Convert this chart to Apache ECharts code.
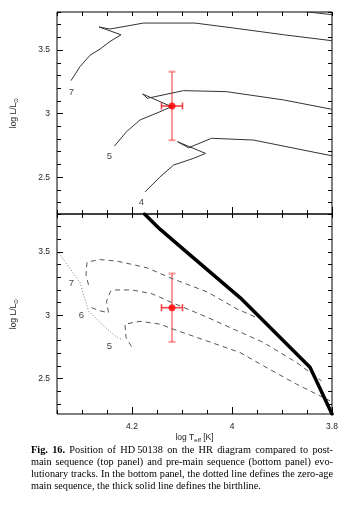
<!DOCTYPE html>
<html>
<head>
<meta charset="utf-8">
<script src="https://cdn.jsdelivr.net/npm/echarts@6/dist/echarts.min.js"></script>
<style>
  html, body { margin: 0; padding: 0; background: #fff; }
  #chart { position: absolute; left: 0; top: 0; width: 351px; height: 509px; }
  #caption {
    position: absolute; left: 31px; top: 444px; width: 302px;
    font-family: 'Liberation Serif', 'Times New Roman', serif;
    font-size: 10.3px; line-height: 11.9px; color: #000;
  }
  #caption div { text-align: justify; text-align-last: justify; white-space: nowrap; }
  #caption div.last { text-align-last: left; }
</style>
</head>
<body>
<div id="chart"></div>
<div id="caption">
  <div><b>Fig. 16.</b> Position of HD&#8201;50138 on the HR diagram compared to post-</div>
  <div>main sequence (top panel) and pre-main sequence (bottom panel) evo-</div>
  <div>lutionary tracks. In the bottom panel, the dotted line defines the zero-age</div>
  <div class="last">main sequence, the thick solid line defines the birthline.</div>
</div>
<script>
// ticks
const xMinorTicks = [3.8, 3.85, 3.9, 3.95, 4.0, 4.05, 4.1, 4.15, 4.2, 4.25, 4.3, 4.35];
const xLabelTicks = [3.8, 4.0, 4.2];
const yMinorTicks = [2.3, 2.4, 2.5, 2.6, 2.7, 2.8, 2.9, 3.0, 3.1, 3.2, 3.3, 3.4, 3.5, 3.6, 3.7, 3.8];
const yLabelTicks = [2.5, 3.0, 3.5];

// HD 50138 (log Teff, log L) with error ranges
const star = [4.12, 3.06];
const starXErr = [4.099, 4.141];
const starYErr = [2.79, 3.33];

// top panel: post-main sequence tracks
const postMs7 = [[4.322, 3.26], [4.304, 3.37], [4.284, 3.46], [4.264, 3.508], [4.244, 3.568], [4.222, 3.621],
  [4.266, 3.682], [4.244, 3.666], [4.177, 3.713], [4.074, 3.713], [3.997, 3.674], [3.897, 3.621], [3.8, 3.574]];
const postMs9 = [[3.848, 3.8], [3.8, 3.779]];
const postMs5 = [[4.235, 2.745], [4.211, 2.858], [4.184, 2.95], [4.144, 3.015], [4.121, 3.055],
  [4.179, 3.155], [4.169, 3.121], [4.097, 3.181], [4.011, 3.173], [3.897, 3.108], [3.8, 3.034]];
const postMs4 = [[4.174, 2.384], [4.144, 2.502], [4.117, 2.595], [4.077, 2.648], [4.053, 2.687],
  [4.109, 2.779], [4.087, 2.731], [4.041, 2.806], [3.957, 2.792], [3.8, 2.668]];
const topTrackNames = ['7', '5', '4'];
const topTrackNamePos = [[4.321, 3.165], [4.245, 2.66], [4.181, 2.305]];

// bottom panel: pre-main sequence tracks, ZAMS, birthline
const preMs7 = [[4.287, 3.24], [4.292, 3.32], [4.29, 3.42], [4.265, 3.44], [4.23, 3.428], [4.17, 3.375],
  [4.12, 3.29], [4.05, 3.185], [3.99, 3.05], [3.95, 2.98]];
const preMs6 = [[4.281, 3.06], [4.264, 3.035], [4.247, 3.02], [4.251, 3.11], [4.243, 3.19], [4.235, 3.2],
  [4.2, 3.2], [4.16, 3.17], [4.12, 3.1], [4.05, 2.985], [4.004, 2.903], [3.937, 2.785], [3.871, 2.627], [3.821, 2.482]];
const preMs5 = [[4.201, 2.753], [4.212, 2.824], [4.214, 2.93], [4.21, 2.945], [4.184, 2.952], [4.144, 2.93],
  [4.121, 2.895], [4.051, 2.798], [3.984, 2.706], [3.937, 2.6], [3.871, 2.456], [3.804, 2.324]];
const zams = [[4.35, 3.51], [4.304, 3.259], [4.287, 3.034], [4.264, 2.943], [4.234, 2.837], [4.222, 2.811]];
const birthline = [[4.175, 3.8], [4.144, 3.68], [4.097, 3.52], [3.984, 3.14], [3.844, 2.59], [3.8, 2.22]];
const bottomTrackNames = ['7', '6', '5'];
const bottomTrackNamePos = [[4.321, 3.253], [4.301, 3.0], [4.245, 2.758]];

const chart = echarts.init(document.getElementById('chart'));

const tickFont = { fontFamily: 'Liberation Sans, Arial, sans-serif', fontSize: 8.5, color: '#222' };
const tickLine = { color: '#000', width: 1 };
const off = { show: false };

const xAxes = (gridIndex, withLabels) => [
  {
    type: 'value', gridIndex, min: 3.8, max: 4.35, inverse: true, position: 'bottom',
    axisLine: off, splitLine: off, axisLabel: off,
    axisTick: { show: true, inside: true, length: 4, customValues: xMinorTicks, lineStyle: tickLine }
  },
  {
    type: 'value', gridIndex, min: 3.8, max: 4.35, inverse: true, position: 'bottom',
    axisLine: off, splitLine: off,
    axisTick: { show: true, inside: true, length: 7, customValues: xLabelTicks, lineStyle: tickLine },
    axisLabel: withLabels ? { show: true, customValues: xLabelTicks, margin: 8, ...tickFont } : off,
    name: withLabels ? 'log T{s|eff} [K]' : '',
    nameLocation: 'middle', nameGap: 18,
    nameTextStyle: {
      ...tickFont,
      rich: { s: { ...tickFont, fontSize: 6, padding: [5, 0, 0, 0] } }
    }
  },
  {
    type: 'value', gridIndex, min: 3.8, max: 4.35, inverse: true, position: 'top',
    axisLine: off, splitLine: off, axisLabel: off,
    axisTick: { show: true, inside: true, length: 4, customValues: xMinorTicks, lineStyle: tickLine }
  }
];

const yAxes = (gridIndex, yMin) => [
  {
    type: 'value', gridIndex, min: yMin, max: 3.8, position: 'left',
    axisLine: off, splitLine: off, axisLabel: off,
    axisTick: { show: true, inside: true, length: 4, customValues: yMinorTicks, lineStyle: tickLine }
  },
  {
    type: 'value', gridIndex, min: yMin, max: 3.8, position: 'left',
    axisLine: off, splitLine: off,
    axisTick: { show: true, inside: true, length: 6, customValues: yLabelTicks, lineStyle: tickLine },
    axisLabel: { show: true, customValues: yLabelTicks, margin: 7, ...tickFont },
    name: '{n|log L/L}{s|⊙}', nameLocation: 'middle', nameRotate: 90, nameGap: 38,
    nameTextStyle: {
      rich: {
        n: { ...tickFont },
        s: { ...tickFont, fontSize: 6, padding: [5, 0, 0, 0] }
      }
    }
  },
  {
    type: 'value', gridIndex, min: yMin, max: 3.8, position: 'right',
    axisLine: off, splitLine: off, axisLabel: off,
    axisTick: { show: true, inside: true, length: 4, customValues: yMinorTicks, lineStyle: tickLine }
  }
];

const trackLine = (data, xi, yi, lineStyle) => ({
  type: 'line', data, xAxisIndex: xi, yAxisIndex: yi, symbol: 'none',
  silent: true, clip: true, lineStyle
});

const errorBars = (xi, yi) => ({
  type: 'custom', xAxisIndex: xi, yAxisIndex: yi, silent: true, z: 3,
  data: [[star[0], star[1], starXErr[0], starXErr[1], starYErr[0], starYErr[1]]],
  renderItem: (params, api) => {
    const c = api.coord([api.value(0), api.value(1)]);
    const xl = api.coord([api.value(2), api.value(1)])[0];
    const xr = api.coord([api.value(3), api.value(1)])[0];
    const yb = api.coord([api.value(0), api.value(4)])[1];
    const yt = api.coord([api.value(0), api.value(5)])[1];
    const cap = 3.5;
    const vStyle = { stroke: 'rgba(240,70,70,0.55)', lineWidth: 2 };
    const hStyle = { stroke: 'rgba(235,40,40,0.85)', lineWidth: 1.6 };
    const seg = (x1, y1, x2, y2, style) => ({ type: 'line', shape: { x1, y1, x2, y2 }, style });
    return {
      type: 'group',
      children: [
        seg(c[0], yb, c[0], yt, vStyle),
        seg(c[0] - cap, yb, c[0] + cap, yb, vStyle),
        seg(c[0] - cap, yt, c[0] + cap, yt, vStyle),
        seg(xl, c[1], xr, c[1], hStyle),
        seg(xl, c[1] - cap, xl, c[1] + cap, hStyle),
        seg(xr, c[1] - cap, xr, c[1] + cap, hStyle)
      ]
    };
  }
});

const starPoint = (xi, yi) => ({
  type: 'scatter', xAxisIndex: xi, yAxisIndex: yi, silent: true, z: 4,
  data: [star], symbolSize: 7, itemStyle: { color: '#ff0000' }
});

const trackNames = (names, pos, xi, yi) => ({
  type: 'scatter', xAxisIndex: xi, yAxisIndex: yi, silent: true, symbolSize: 0,
  data: names.map((n, i) => ({ name: n, value: pos[i] })),
  label: { show: true, position: 'inside', formatter: '{b}', ...tickFont, fontSize: 9.5, color: '#111' }
});

const postStyle = { color: '#333', width: 1 };
const preStyle = { color: '#555', width: 1, type: [5, 4] };

chart.setOption({
  animation: false,
  grid: [
    { left: 57, top: 12, width: 275, height: 202, show: true, borderColor: '#000', borderWidth: 1, backgroundColor: 'transparent' },
    { left: 57, top: 214, width: 275, height: 200, show: true, borderColor: '#000', borderWidth: 1, backgroundColor: 'transparent' }
  ],
  xAxis: [...xAxes(0, false), ...xAxes(1, true)],
  yAxis: [...yAxes(0, 2.21), ...yAxes(1, 2.22)],
  series: [
    trackLine(postMs7, 0, 0, postStyle),
    trackLine(postMs9, 0, 0, postStyle),
    trackLine(postMs5, 0, 0, postStyle),
    trackLine(postMs4, 0, 0, postStyle),
    trackNames(topTrackNames, topTrackNamePos, 0, 0),
    errorBars(0, 0),
    starPoint(0, 0),

    trackLine(preMs7, 3, 3, preStyle),
    trackLine(preMs6, 3, 3, preStyle),
    trackLine(preMs5, 3, 3, preStyle),
    trackLine(zams, 3, 3, { color: '#777', width: 1, type: [1, 2] }),
    trackLine(birthline, 3, 3, { color: '#000', width: 3.5, cap: 'round', join: 'round' }),
    trackNames(bottomTrackNames, bottomTrackNamePos, 3, 3),
    errorBars(3, 3),
    starPoint(3, 3)
  ]
});
</script>
</body>
</html>
